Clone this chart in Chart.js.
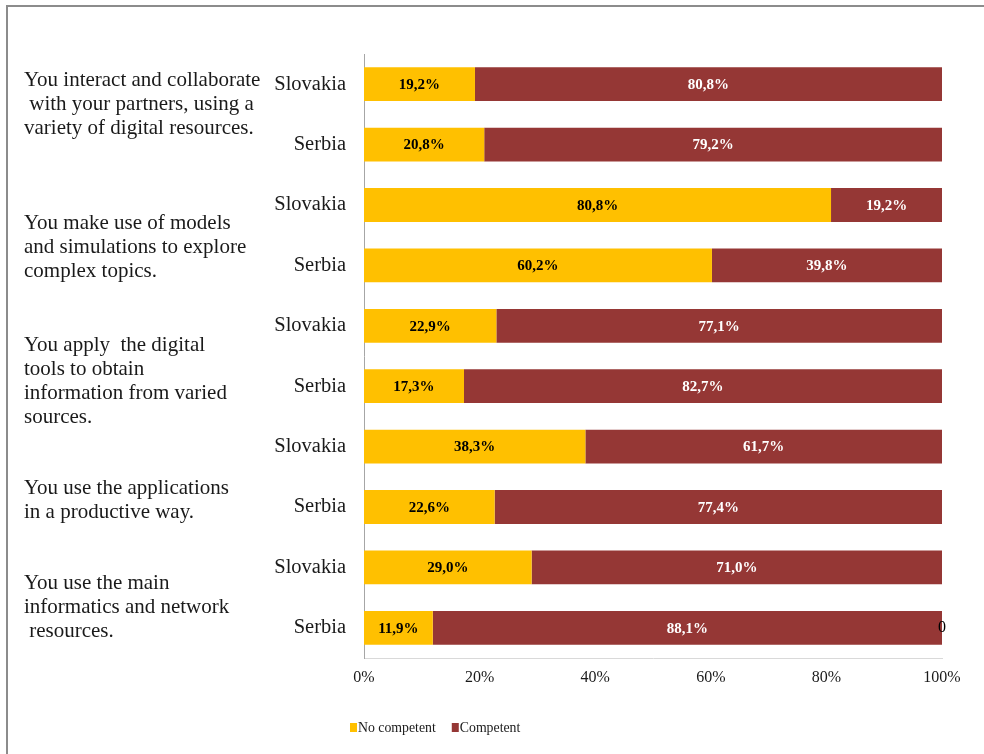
<!DOCTYPE html>
<html>
<head>
<meta charset="utf-8">
<title>Digital competences - Slovakia / Serbia</title>
<script src="https://cdn.jsdelivr.net/npm/chart.js"></script>
<style>
  html, body { margin: 0; padding: 0; background: #fff; }
  #wrap { position: relative; width: 984px; height: 754px; overflow: hidden; }
  #frame {
    position: absolute; left: 6px; top: 5px; right: -20px; bottom: -20px;
    border-top: 2px solid #8c8c8c; border-left: 2px solid #8c8c8c;
    pointer-events: none;
  }
  canvas { position: absolute; left: 0; top: 0; }
</style>
</head>
<body>
<div id="wrap">
  <div id="frame"></div>
  <canvas id="competenceChart" width="984" height="754"></canvas>
</div>
<script>
// Rows, top to bottom (two countries per statement)
const countries = ['Slovakia', 'Serbia', 'Slovakia', 'Serbia', 'Slovakia', 'Serbia', 'Slovakia', 'Serbia', 'Slovakia', 'Serbia'];

// Share of respondents, in %
const noCompetent = [19.2, 20.8, 80.8, 60.2, 22.9, 17.3, 38.3, 22.6, 29.0, 11.9];
const competent   = [80.8, 79.2, 19.2, 39.8, 77.1, 82.7, 61.7, 77.4, 71.0, 88.1];
// stray "0" label at the end of the last bar
const otherValues = [null, null, null, null, null, null, null, null, null, 0];

// Statements, one per pair of rows (lines as in the original)
const statements = [
    ['You interact and collaborate', ' with your partners, using a', 'variety of digital resources.'],
    ['You make use of models', 'and simulations to explore', 'complex topics.'],
    ['You apply  the digital', 'tools to obtain', 'information from varied', 'sources.'],
    ['You use the applications', 'in a productive way.'],
    ['You use the main', 'informatics and network', ' resources.']
];

const xTicks = [0, 20, 40, 60, 80, 100];

// vertical offset of each statement block from its first row (px)
const statementOffsets = [-4, 18, 20, 42, 16];

const SERIF = '"Liberation Serif", "Times New Roman", serif';
const YELLOW = '#FFC000';
const RED = '#953735';

function fmtPct(v) {
    return v.toFixed(1).replace('.', ',') + '%';
}

// Draws the value labels inside each bar segment
const barLabels = {
    id: 'barLabels',
    afterDatasetsDraw(chart) {
        const ctx = chart.ctx;
        ctx.save();
        ctx.textAlign = 'center';
        ctx.textBaseline = 'middle';
        chart.data.datasets.forEach((ds, di) => {
            const meta = chart.getDatasetMeta(di);
            meta.data.forEach((bar, i) => {
                const v = ds.data[i];
                if (v === null || v === undefined) return;
                const p = bar.getProps(['x', 'y', 'base'], true);
                if (di === 2) {
                    ctx.font = '16px ' + SERIF;
                    ctx.fillStyle = '#000';
                    ctx.fillText(String(v), p.x, p.y);
                    return;
                }
                ctx.font = 'bold 15px ' + SERIF;
                ctx.fillStyle = di === 0 ? '#000' : '#fff';
                ctx.fillText(fmtPct(v), (p.x + p.base) / 2, p.y + 1);
            });
        });
        ctx.restore();
    }
};

// Statement texts on the far left + the small legend at the bottom
const sideTexts = {
    id: 'sideTexts',
    afterDraw(chart) {
        const ctx = chart.ctx;
        const y = chart.scales.y;
        ctx.save();
        ctx.font = '21px ' + SERIF;
        ctx.fillStyle = '#1a1a1a';
        ctx.textAlign = 'left';
        ctx.textBaseline = 'middle';
        statements.forEach((lines, g) => {
            const top = y.getPixelForValue(g * 2) + statementOffsets[g];
            lines.forEach((line, k) => {
                ctx.fillText(line, 24, top + k * 24);
            });
        });

        // legend
        ctx.font = '13.8px ' + SERIF;
        let x = 350;
        [0, 1].forEach(di => {
            const ds = chart.data.datasets[di];
            ctx.fillStyle = ds.backgroundColor;
            ctx.fillRect(x, 723, 7, 9);
            ctx.fillStyle = '#1a1a1a';
            ctx.fillText(ds.label, x + 8, 728);
            x += 8 + ctx.measureText(ds.label).width + 16;
        });
        ctx.restore();
    }
};

const ctx = document.getElementById('competenceChart').getContext('2d');
new Chart(ctx, {
    type: 'bar',
    data: {
        labels: countries,
        datasets: [
            { label: 'No competent', data: noCompetent, backgroundColor: YELLOW, borderWidth: 0 },
            { label: 'Competent', data: competent, backgroundColor: RED, borderWidth: 0 },
            { label: 'other', data: otherValues, backgroundColor: RED, borderWidth: 0 }
        ]
    },
    options: {
        indexAxis: 'y',
        responsive: false,
        animation: false,
        barPercentage: 0.56,
        categoryPercentage: 1,
        layout: { padding: { top: 54, right: 42, bottom: 0, left: 0 } },
        plugins: {
            legend: { display: false },
            tooltip: { enabled: false }
        },
        scales: {
            x: {
                stacked: true,
                min: 0,
                max: 100,
                afterBuildTicks: scale => { scale.ticks = xTicks.map(v => ({ value: v })); },
                afterFit: scale => { scale.height = 96; },
                grid: { display: false },
                border: { display: true, color: '#d9d9d9', width: 1 },
                ticks: {
                    padding: 2,
                    color: '#1a1a1a',
                    font: { family: SERIF, size: 16 },
                    callback: v => v + '%'
                }
            },
            y: {
                stacked: true,
                afterFit: scale => { scale.width = 364; },
                grid: { display: false },
                border: { display: true, color: '#a6a6a6', width: 1 },
                ticks: {
                    padding: 10,
                    color: '#1a1a1a',
                    font: { family: SERIF, size: 20.5 }
                }
            }
        }
    },
    plugins: [barLabels, sideTexts]
});
</script>
</body>
</html>
